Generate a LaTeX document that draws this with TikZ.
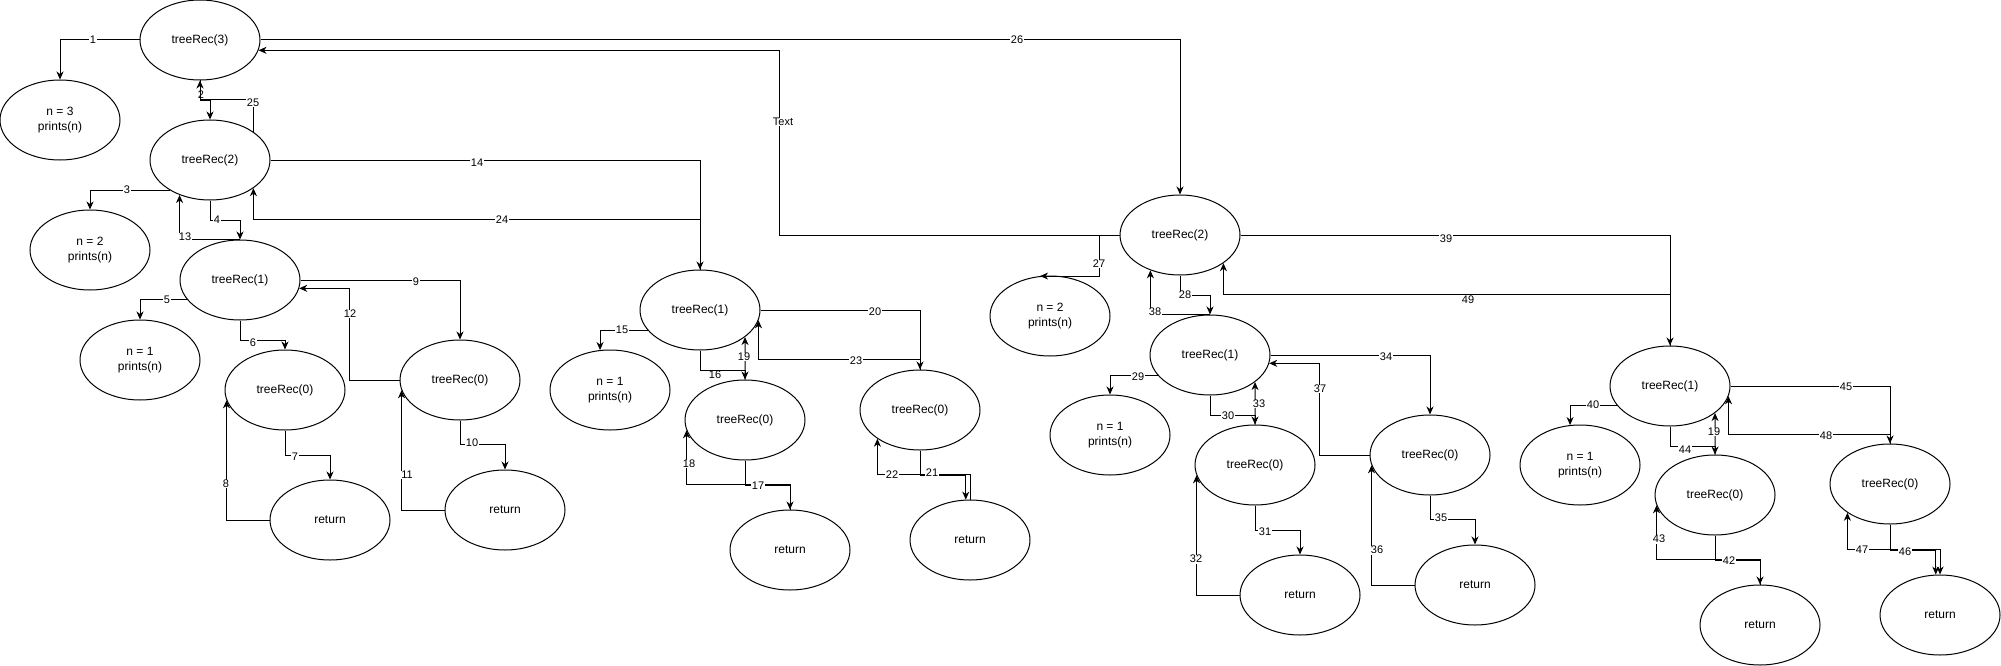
\documentclass[tikz,border=0pt]{standalone}
\usepackage{fontspec}
\setmainfont{Liberation Sans}
\usetikzlibrary{arrows.meta,shapes.geometric}
\begin{document}
\begin{tikzpicture}[x=1pt,y=-1pt,
  ell/.style={ellipse, draw, line width=1pt, minimum width=120pt, minimum height=80pt, inner sep=0pt, font=\fontsize{12}{15}\selectfont, align=center},
  arr/.style={line width=1pt, -{Stealth[length=8pt,width=7pt,inset=2.5pt]}},
  dblarr/.style={line width=1pt, {Stealth[length=8pt,width=7pt,inset=2.5pt]}-{Stealth[length=8pt,width=7pt,inset=2.5pt]}},
  lbl/.style={fill=white, inner sep=0.6pt, font=\fontsize{11}{12}\selectfont}]
\useasboundingbox (0,0) rectangle (2001,666);
% nodes
\node[ell] (t3) at (200,40) {treeRec(3)};
\node[ell] (p3) at (60,120) {n = 3\\prints(n)};
\node[ell] (t2a) at (210,160) {treeRec(2)};
\node[ell] (p2a) at (90,250) {n = 2\\prints(n)};
\node[ell] (t1a) at (240,280) {treeRec(1)};
\node[ell] (p1a) at (140,360) {n = 1\\prints(n)};
\node[ell] (t0a1) at (285,390) {treeRec(0)};
\node[ell] (ra1) at (330,520) {return};
\node[ell] (t0a2) at (460,380) {treeRec(0)};
\node[ell] (ra2) at (505,510) {return};
\node[ell] (t1b) at (700,310) {treeRec(1)};
\node[ell] (p1b) at (610,390) {n = 1\\prints(n)};
\node[ell] (t0b1) at (745,420) {treeRec(0)};
\node[ell] (rb1) at (790,550) {return};
\node[ell] (t0b2) at (920,410) {treeRec(0)};
\node[ell] (rb2) at (970,540) {return};
\node[ell] (t2b) at (1180,235) {treeRec(2)};
\node[ell] (p2b) at (1050,316) {n = 2\\prints(n)};
\node[ell] (t1c) at (1210,355) {treeRec(1)};
\node[ell] (p1c) at (1110,435) {n = 1\\prints(n)};
\node[ell] (t0c1) at (1255,465) {treeRec(0)};
\node[ell] (rc1) at (1300,595) {return};
\node[ell] (t0c2) at (1430,455) {treeRec(0)};
\node[ell] (rc2) at (1475,585) {return};
\node[ell] (t1d) at (1670,386) {treeRec(1)};
\node[ell] (p1d) at (1580,465) {n = 1\\prints(n)};
\node[ell] (t0d1) at (1715,495) {treeRec(0)};
\node[ell] (rd1) at (1760,625) {return};
\node[ell] (t0d2) at (1890,484) {treeRec(0)};
\node[ell] (rd2) at (1940,615) {return};
\node[lbl] (l2) at (201,95) {2};
% region A
\draw[arr] (t3.west) -| (p3.north);
\draw[arr] (t3.south) -- ++(0,20) -| (t2a.north);
\draw[arr] (t2a.33) -- ++(0,-32) -| (t3.south);
\draw[arr] (t2a.217) -| (p2a.north);
\draw[arr] (t2a.south) -- ++(0,20) -| (t1a.north);
\draw[arr] (t1a.north) -| (t2a.229);
\draw[arr] (t1a.200) -| (p1a.north);
\draw[arr] (t1a.south) -- ++(0,20) -| (t0a1.north);
\draw[arr] (t0a1.south) -- ++(0,25) -| (ra1.north);
\draw[arr] (ra1.west) -| (t0a1.190);
\draw[arr] (t1a.east) -| (t0a2.north);
\draw[arr] (t0a2.west) -- ++(-50,0) |- (t1a.352);
\draw[arr] (t0a2.south) -- ++(0,24) -| (ra2.north);
\draw[arr] (ra2.west) -| (t0a2.190);
% region B
\draw[arr] (t2a.east) -| (t1b.north);
\draw[arr] (t1b.north) -- ++(0,-50) -| (t2a.327);
\draw[arr] (t1b.201) -| (p1b.104);
\draw[arr] (t1b.south) -- ++(0,20) -| (t0b1.north);
\draw[arr] (t0b1.north) -- (t1b.329.5);
\draw[arr] (t0b1.south) -- ++(0,25) -| (rb1.north);
\draw[arr] (rb1.north) -- ++(0,-25) -| (t0b1.190);
\draw[arr] (t1b.east) -| (t0b2.north);
\draw[arr] (t0b2.north) -- ++(0,-10) -| (t1b.350);
\draw[arr] (t0b2.south) -- ++(0,25) -| (rb2.96);
\draw[arr] (rb2.north) -- ++(0,-25) -| (t0b2.214);
% region C
\draw[arr] (t3.east) -| (t2b.north);
\draw[arr] (t2b.west) -- ++(-340,0) |- (t3.350);
\draw[arr] (t2b.west) -- ++(-20,0) |- (p2b.104);
\draw[arr] (t2b.south) -- ++(0,20) -| (t1c.north);
\draw[arr] (t1c.north) -| (t2b.230);
\draw[arr] (t2b.east) -| (t1d.north);
\draw[arr] (t1d.north) -- ++(0,-51) -| (t2b.327);
\draw[arr] (t1c.201) -| (p1c.north);
\draw[arr] (t1c.south) -- ++(0,20) -| (t0c1.north);
\draw[arr] (t0c1.north) -- (t1c.329.5);
\draw[arr] (t1c.east) -| (t0c2.north);
\draw[arr] (t0c2.west) -- ++(-50,0) |- (t1c.352);
\draw[arr] (t0c1.south) -- ++(0,25) -| (rc1.north);
\draw[arr] (rc1.west) -| (t0c1.190);
\draw[arr] (t0c2.south) -- ++(0,24) -| (rc2.north);
\draw[arr] (rc2.west) -| (t0c2.190);
% region D
\draw[arr] (t1d.200) -| (p1d.104);
\draw[arr] (t1d.south) -- ++(0,20) -| (t0d1.north);
\draw[arr] (t0d1.north) -- (t1d.329.5);
\draw[arr] (t1d.east) -| (t0d2.north);
\draw[arr] (t0d2.north) -- ++(0,-9) -| (t1d.350);
\draw[arr] (t0d1.south) -- ++(0,25) -| (rd1.north);
\draw[arr] (rd1.north) -- ++(0,-25) -| (t0d1.190);
\draw[arr] (t0d2.south) -- ++(0,26) -| (rd2.96);
\draw[dblarr] (rd2.north) -- ++(0,-25) -| (t0d2.214);
% labels
\node[lbl] (l1) at (93,40) {1};
\node[lbl] (l25) at (253,103) {25};
\node[lbl] (l3) at (127,190) {3};
\node[lbl] (l4) at (217,220) {4};
\node[lbl] (l13) at (185,237) {13};
\node[lbl] (l5) at (167,300) {5};
\node[lbl] (l6) at (253,343) {6};
\node[lbl] (l7) at (295,457) {7};
\node[lbl] (l8) at (226,484) {8};
\node[lbl] (l9) at (416,282) {9};
\node[lbl] (l12) at (350,314) {12};
\node[lbl] (l10) at (472,443) {10};
\node[lbl] (l11) at (407,475) {11};
\node[lbl] (l14) at (477,163) {14};
\node[lbl] (l24) at (502,220) {24};
\node[lbl] (l15) at (622,330) {15};
\node[lbl] (l16) at (715,375) {16};
\node[lbl] (l19a) at (744,357) {19};
\node[lbl] (l17) at (758,486) {17};
\node[lbl] (l18) at (689,464) {18};
\node[lbl] (l20) at (875,312) {20};
\node[lbl] (l23) at (856,361) {23};
\node[lbl] (l21) at (932,473) {21};
\node[lbl] (l22) at (892,475) {22};
\node[lbl] (l26) at (1017,40) {26};
\node[lbl] (ltext) at (783,122) {Text};
\node[lbl] (l27) at (1099,264) {27};
\node[lbl] (l28) at (1185,295) {28};
\node[lbl] (l38) at (1155,312) {38};
\node[lbl] (l39) at (1446,239) {39};
\node[lbl] (l49) at (1468,300) {49};
\node[lbl] (l29) at (1138,377) {29};
\node[lbl] (l30) at (1228,416) {30};
\node[lbl] (l33) at (1259,404) {33};
\node[lbl] (l34) at (1386,357) {34};
\node[lbl] (l37) at (1320,389) {37};
\node[lbl] (l31) at (1265,532) {31};
\node[lbl] (l32) at (1196,559) {32};
\node[lbl] (l35) at (1441,518) {35};
\node[lbl] (l36) at (1377,550) {36};
\node[lbl] (l40) at (1593,405) {40};
\node[lbl] (l44) at (1685,450) {44};
\node[lbl] (l19b) at (1714,432) {19};
\node[lbl] (l45) at (1846,387) {45};
\node[lbl] (l48) at (1826,436) {48};
\node[lbl] (l42) at (1729,561) {42};
\node[lbl] (l43) at (1659,539) {43};
\node[lbl] (l46) at (1905,552) {46};
\node[lbl] (l47) at (1862,550) {47};
\end{tikzpicture}
\end{document}
